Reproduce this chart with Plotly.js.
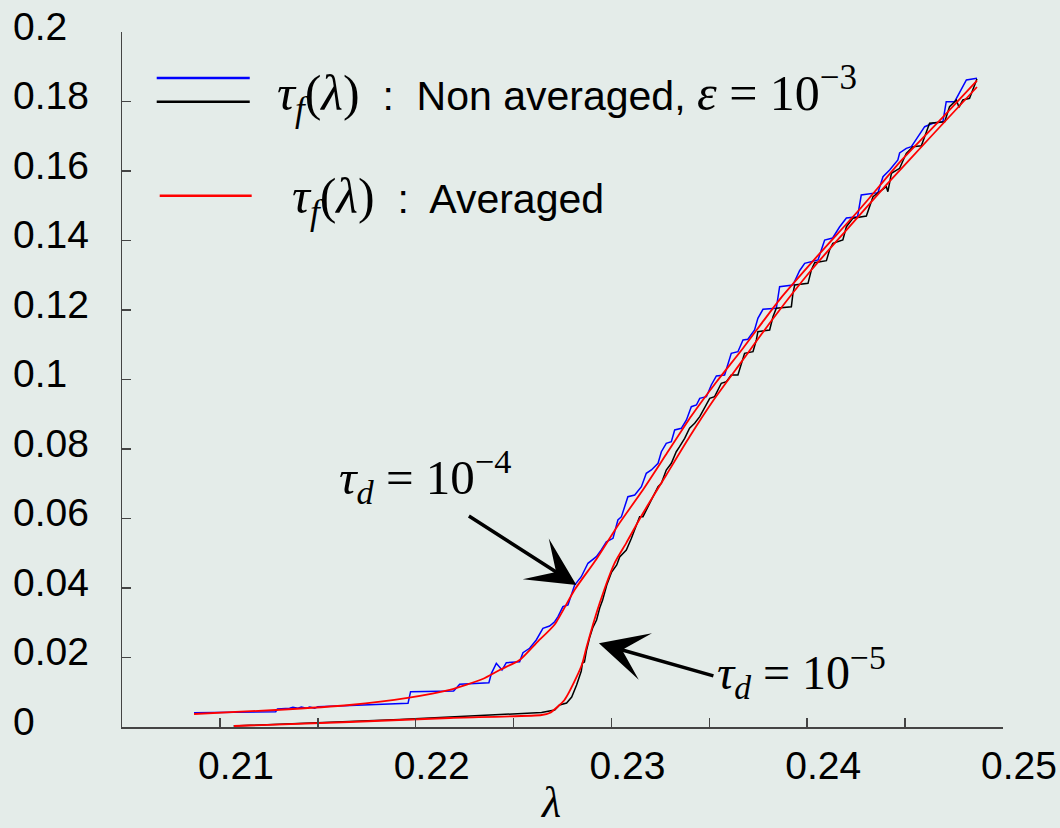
<!DOCTYPE html>
<html><head><meta charset="utf-8">
<script src="https://cdn.plot.ly/plotly-3.0.1.min.js"></script>
<style>body{margin:0;background:#e4ece9}</style>
</head><body><div id="chart" style="width:1060px;height:828px"></div>
<script>
// tau_d = 1e-4, non averaged (blue)
const blueX = [0.20868,0.21285,0.21294,0.21356,0.21373,0.21399,0.21416,0.21442,0.21459,0.21484,0.21500,0.21961,0.21974,0.22194,0.22225,0.22374,0.22387,0.22412,0.22441,0.22463,0.22531,0.22548,0.22582,0.22616,0.22650,0.22684,0.22710,0.22727,0.22752,0.22778,0.22795,0.22812,0.22846,0.22880,0.22923,0.22948,0.22974,0.23008,0.23033,0.23051,0.23084,0.23119,0.23153,0.23178,0.23204,0.23238,0.23255,0.23280,0.23306,0.23323,0.23357,0.23383,0.23408,0.23434,0.23451,0.23485,0.23510,0.23536,0.23578,0.23595,0.23612,0.23646,0.23672,0.23697,0.23731,0.23748,0.23774,0.23842,0.23859,0.23927,0.23961,0.23987,0.24055,0.24072,0.24089,0.24130,0.24165,0.24200,0.24257,0.24276,0.24361,0.24387,0.24421,0.24463,0.24472,0.24506,0.24532,0.24600,0.24642,0.24693,0.24710,0.24753,0.24787,0.24813,0.24867];
const blueY = [0.00412,0.00440,0.00518,0.00538,0.00567,0.00538,0.00576,0.00538,0.00576,0.00538,0.00584,0.00682,0.01016,0.01036,0.01229,0.01275,0.01545,0.01833,0.01640,0.01850,0.01879,0.02138,0.02265,0.02504,0.02840,0.02906,0.03030,0.03174,0.03462,0.03511,0.03799,0.04086,0.04325,0.04711,0.04901,0.05094,0.05332,0.05430,0.05957,0.06052,0.06627,0.06676,0.06915,0.07301,0.07396,0.07588,0.07922,0.08164,0.08210,0.08547,0.08596,0.08835,0.09217,0.09266,0.09459,0.09505,0.09842,0.10101,0.10129,0.10417,0.10754,0.10800,0.11137,0.11157,0.11424,0.11761,0.12020,0.12049,0.12671,0.12719,0.13131,0.13344,0.13439,0.13727,0.14014,0.14072,0.14389,0.14648,0.14685,0.15309,0.15376,0.15836,0.16029,0.16317,0.16518,0.16653,0.16699,0.17275,0.17373,0.17419,0.17994,0.17994,0.18331,0.18619,0.18667];
// tau_d = 1e-5, non averaged (black)
const blackX = [0.21070,0.21918,0.22643,0.22710,0.22735,0.22771,0.22797,0.22822,0.22846,0.22852,0.22862,0.22873,0.22888,0.22904,0.22924,0.22940,0.22955,0.22976,0.23001,0.23027,0.23042,0.23076,0.23102,0.23119,0.23144,0.23161,0.23195,0.23212,0.23238,0.23255,0.23280,0.23306,0.23331,0.23348,0.23374,0.23399,0.23425,0.23451,0.23485,0.23502,0.23527,0.23544,0.23561,0.23587,0.23612,0.23646,0.23663,0.23680,0.23723,0.23740,0.23748,0.23808,0.23825,0.23842,0.23919,0.23927,0.23936,0.24004,0.24021,0.24038,0.24098,0.24114,0.24131,0.24182,0.24200,0.24233,0.24302,0.24336,0.24370,0.24404,0.24412,0.24430,0.24472,0.24506,0.24540,0.24583,0.24625,0.24702,0.24727,0.24762,0.24775,0.24795,0.24829,0.24867];
const blackY = [0.00029,0.00216,0.00417,0.00489,0.00633,0.00691,0.00863,0.01209,0.01612,0.01842,0.01870,0.02216,0.02561,0.02849,0.03079,0.03424,0.03655,0.04086,0.04460,0.04662,0.04892,0.05094,0.05430,0.05669,0.06052,0.06052,0.06437,0.06627,0.06915,0.07013,0.07396,0.07588,0.07922,0.08066,0.08308,0.08596,0.08740,0.08930,0.09266,0.09459,0.09505,0.09698,0.09891,0.09937,0.10129,0.10129,0.10466,0.10754,0.10800,0.11137,0.11376,0.11424,0.11807,0.12049,0.12095,0.12481,0.12719,0.12768,0.13151,0.13361,0.13419,0.13727,0.13920,0.14014,0.14397,0.14639,0.14705,0.15260,0.15404,0.15548,0.15404,0.15934,0.16078,0.16509,0.16699,0.16728,0.17373,0.17419,0.17850,0.18043,0.17833,0.18043,0.18092,0.18647];
// averaged (red)
const avgUpX = [0.20868,0.21285,0.21663,0.21959,0.22174,0.22342,0.22429,0.22531,0.22616,0.22710,0.22812,0.22923,0.23033,0.23153,0.23280,0.23408,0.23536,0.23672,0.23859,0.24055,0.24276,0.24472,0.24693,0.24867];
const avgUpY = [0.00374,0.00489,0.00633,0.00835,0.01065,0.01381,0.01640,0.01928,0.02417,0.02950,0.03950,0.04830,0.05800,0.06760,0.07850,0.08950,0.09930,0.10900,0.12300,0.13570,0.14950,0.16250,0.17550,0.18600];
const avgLowX = [0.21072,0.21663,0.22174,0.22643,0.22684,0.22760,0.22822,0.22852,0.22873,0.22940,0.23016,0.23076,0.23161,0.23280,0.23399,0.23527,0.23663,0.23825,0.24021,0.24200,0.24404,0.24625,0.24867];
const avgLowY = [0.00029,0.00144,0.00259,0.00345,0.00403,0.00777,0.01439,0.01842,0.02302,0.03568,0.04719,0.05300,0.06150,0.07250,0.08350,0.09450,0.10500,0.11750,0.13150,0.14300,0.15600,0.16950,0.18417];

const xTickVals = [0.21,0.215,0.22,0.225,0.23,0.235,0.24,0.245,0.25];
const xTickText = ['0.21','','0.22','','0.23','','0.24','','0.25'];
const yTickVals = [0,0.02,0.04,0.06,0.08,0.1,0.12,0.14,0.16,0.18,0.2];
const yTickText = ['0','0.02','0.04','0.06','0.08','0.1','0.12','0.14','0.16','0.18','0.2'];

const SANS = 'Liberation Sans, Arial, sans-serif';
const SERIF = 'Liberation Serif, Times New Roman, serif';
const AX = '#444444';

const traces = [
  {x: blueX, y: blueY, mode: 'lines', line: {color: '#0000ff', width: 1.5}, name: 'blue', showlegend: false},
  {x: blackX, y: blackY, mode: 'lines', line: {color: '#000000', width: 1.5}, name: 'black', showlegend: false},
  {x: avgUpX, y: avgUpY, mode: 'lines', line: {color: '#ff0000', width: 1.8, shape: 'spline', smoothing: 0.6}, name: 'avg1', showlegend: false},
  {x: avgLowX, y: avgLowY, mode: 'lines', line: {color: '#ff0000', width: 1.8, shape: 'spline', smoothing: 0.6}, name: 'avg2', showlegend: false}
];

const M = (t) => '<span style="font-family:' + SERIF + ';font-size:50px">' + t + '</span>';

const annotations = [];
yTickVals.forEach((v, i) => {
  annotations.push({xref: 'paper', yref: 'y', x: -0.1255, y: v, xanchor: 'left', yanchor: 'middle', yshift: 6,
    text: yTickText[i], showarrow: false, font: {family: SANS, size: 39, color: '#000'}});
});
annotations.push({xref: 'paper', yref: 'paper', x: 0.1734, y: 0.912, xanchor: 'left', yanchor: 'middle', showarrow: false,
  text: M('<i>τ</i><sub><i>f</i></sub>(<i>λ</i>)') + '  :  Non averaged, ' + M('<i>ε</i> = 10<sup>−3</sup>'),
  font: {family: SANS, size: 41, color: '#000'}});
annotations.push({xref: 'paper', yref: 'paper', x: 0.1904, y: 0.758, xanchor: 'left', yanchor: 'middle', showarrow: false,
  text: M('<i>τ</i><sub><i>f</i></sub>(<i>λ</i>)') + '  :  Averaged',
  font: {family: SANS, size: 41, color: '#000'}});
annotations.push({xref: 'paper', yref: 'paper', x: (337-122.3)/880.7, y: (727-476)/695, xanchor: 'left', yanchor: 'middle', showarrow: false,
  text: '<i>τ</i><sub><i>d</i></sub> = 10<sup>−4</sup>', font: {family: SERIF, size: 49, color: '#000'}});
annotations.push({xref: 'paper', yref: 'paper', x: (715-122.3)/880.7, y: (727-672)/695, xanchor: 'left', yanchor: 'middle', showarrow: false,
  text: '<i>τ</i><sub><i>d</i></sub> = 10<sup>−5</sup>', font: {family: SERIF, size: 48, color: '#000'}});
// arrows
annotations.push({xref: 'x', yref: 'y', x: 0.22821, y: 0.04086, ax: -109, ay: -70, text: '', showarrow: true,
  arrowhead: 3, arrowsize: 2.3, arrowwidth: 3.5, arrowcolor: '#000'});
annotations.push({xref: 'x', yref: 'y', x: 0.22936, y: 0.02409, ax: 116, ay: 33, text: '', showarrow: true,
  arrowhead: 3, arrowsize: 2.3, arrowwidth: 3.5, arrowcolor: '#000'});
// axis title
annotations.push({xref: 'paper', yref: 'paper', x: (551-122.3)/880.7, y: (727-803)/695, xanchor: 'center', yanchor: 'middle', showarrow: false,
  text: '<i>λ</i>', font: {family: SERIF, size: 44, color: '#000'}});

const shapes = [
  {type: 'line', xref: 'paper', yref: 'paper', x0: 0.0394, x1: 0.145, y0: 0.9338, y1: 0.9338, line: {color: '#0000ff', width: 2.5}},
  {type: 'line', xref: 'paper', yref: 'paper', x0: 0.0394, x1: 0.145, y0: 0.8997, y1: 0.8997, line: {color: '#000000', width: 2.5}},
  {type: 'line', xref: 'paper', yref: 'paper', x0: 0.0428, x1: 0.1472, y0: 0.7645, y1: 0.7645, line: {color: '#ff0000', width: 2.5}}
];

const layout = {
  width: 1060, height: 828,
  margin: {l: 122, r: 57, t: 32, b: 101},
  paper_bgcolor: '#e4ece9', plot_bgcolor: '#e4ece9',
  showlegend: false,
  xaxis: {range: [0.205, 0.25], showgrid: false, zeroline: false, showline: true, linecolor: AX, linewidth: 1.5,
    ticks: 'inside', ticklen: 9, tickwidth: 1.5, tickcolor: AX, tickmode: 'array', tickvals: xTickVals, ticktext: xTickText,
    tickfont: {family: SANS, size: 39, color: '#000'}, ticklabelshift: 16, ticklabelstandoff: 4},
  yaxis: {range: [0, 0.2], showgrid: false, zeroline: false, showline: true, linecolor: AX, linewidth: 1.5,
    ticks: 'inside', ticklen: 9, tickwidth: 1.5, tickcolor: AX, tickmode: 'array', tickvals: yTickVals, showticklabels: false},
  annotations: annotations,
  shapes: shapes
};

Plotly.newPlot('chart', traces, layout, {displayModeBar: false, staticPlot: true});
</script></body></html>
